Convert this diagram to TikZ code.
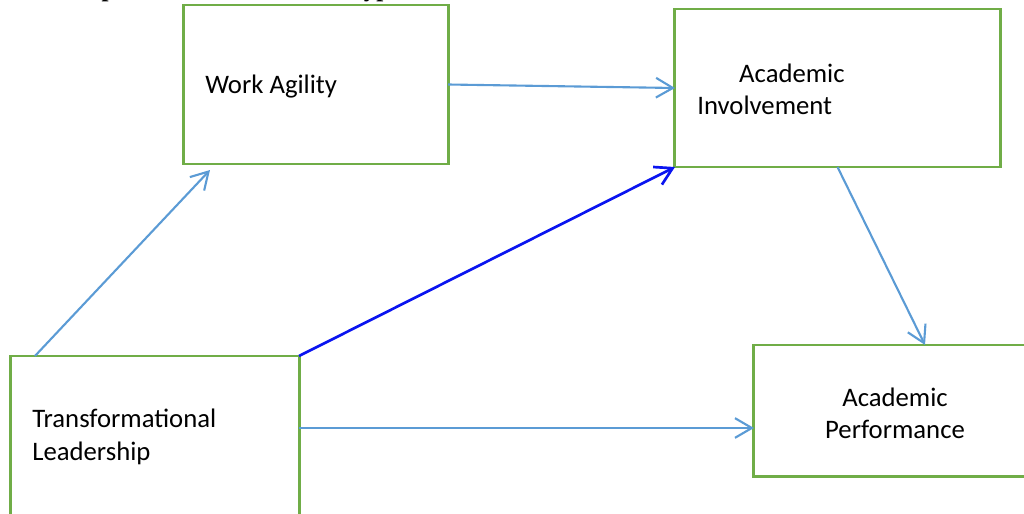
\documentclass[tikz,border=0pt]{standalone}
\usepackage{fontspec}
\setmainfont{Carlito}
\newfontfamily\titlefont{Liberation Serif}
\usetikzlibrary{arrows.meta}
\definecolor{boxgreen}{HTML}{70AD47}
\definecolor{linkblue}{HTML}{5B9BD5}
\definecolor{strongblue}{HTML}{0A14F0}

\begin{document}
\begin{tikzpicture}[x=0.025cm,y=-0.025cm,
  box/.style={draw=boxgreen,line width=2.1pt,inner sep=0pt,outer sep=0pt},
  txt/.style={font=\fontsize{19}{23}\selectfont,inner sep=0pt},
  link/.style={draw=linkblue,line width=1.5pt,-{Straight Barb[length=12pt,width=14pt]}},
  strong/.style={draw=strongblue,line width=1.9pt}]
\useasboundingbox (0,0) rectangle (1024,513);
\clip (0,0) rectangle (1024,513);
\node[anchor=base west,font=\titlefont\bfseries\fontsize{17.9}{20}\selectfont] (title) at (29.5,-3.2) {Conceptual Framework and Hypotheses};
% boxes
\node[box,minimum width=6.6cm,minimum height=3.975cm] (wa) at (316,84.5) {};
\node[box,minimum width=8.125cm,minimum height=3.95cm] (ai) at (837.5,88) {};
\node[box,minimum width=7.2cm,minimum height=5.35cm] (tl) at (155,463) {};
\node[box,minimum width=8.55cm,minimum height=3.275cm] (ap) at (925,410.5) {};
% labels
\node[txt,anchor=west] (watext) at (205,87) {Work Agility};
\node[txt,anchor=west,align=left] (aitext) at (697,89) {\hspace*{29.8pt}Academic\\Involvement};
\node[txt,anchor=west,align=left] (tltext) at (32,437) {Transformational\\Leadership};
\node[txt,align=center] (aptext) at (895,413) {Academic\\Performance};
% arrows
\draw[link] ([xshift=0.6cm]tl.north west) -- ([xshift=0.65cm,yshift=-0.15cm]wa.south west);
\draw[link] (wa.east) -- (ai.west);
\draw[link,strong] (tl.north east) -- (ai.south west);
\draw[link] (ai.south) -- (ap.north);
\draw[link] ([yshift=-1.8cm]tl.north east) coordinate (tlout) -- (tlout -| ap.west);
\end{tikzpicture}
\end{document}
